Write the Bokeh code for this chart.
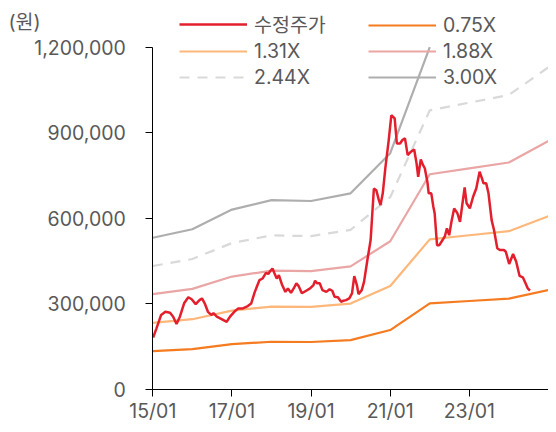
import pandas as pd
from bokeh.plotting import figure
from bokeh.models import (ColumnDataSource, Legend, LegendItem, FixedTicker,
                          NumeralTickFormatter, DatetimeTickFormatter, Label, Range1d)
from bokeh.embed import file_html
from bokeh.resources import INLINE

# ---------------- data ----------------
price_dates = [
    "2015-01-04", "2015-02-04", "2015-03-19", "2015-04-27", "2015-06-09", "2015-07-08",
    "2015-08-08", "2015-09-08", "2015-10-17", "2015-11-25", "2015-12-26", "2016-02-01",
    "2016-03-07", "2016-03-30", "2016-04-24", "2016-05-24", "2016-06-24", "2016-07-14",
    "2016-08-14", "2016-09-14", "2016-10-23", "2016-11-13", "2016-12-14", "2017-01-22",
    "2017-02-28", "2017-04-12", "2017-05-27", "2017-06-27", "2017-07-30", "2017-09-11",
    "2017-10-11", "2017-11-11", "2017-12-02", "2017-12-20", "2018-01-10", "2018-01-26",
    "2018-02-18", "2018-03-10", "2018-04-09", "2018-05-09", "2018-06-01", "2018-06-30",
    "2018-07-25", "2018-08-18", "2018-09-09", "2018-10-08", "2018-11-17", "2018-12-23",
    "2019-01-23", "2019-02-07", "2019-02-27", "2019-03-22", "2019-04-16", "2019-05-22",
    "2019-06-21", "2019-07-16", "2019-08-06", "2019-09-06", "2019-10-06", "2019-10-27",
    "2019-11-20", "2019-12-20", "2020-01-14", "2020-02-04", "2020-02-28", "2020-03-14",
    "2020-04-13", "2020-05-04", "2020-06-04", "2020-07-04", "2020-08-03", "2020-08-25",
    "2020-09-18", "2020-10-03", "2020-10-24", "2020-11-18", "2020-12-18", "2021-01-11",
    "2021-02-11", "2021-03-03", "2021-04-02", "2021-04-23", "2021-05-17", "2021-06-11",
    "2021-07-11", "2021-08-10", "2021-09-01", "2021-09-16", "2021-10-10", "2021-10-31",
    "2021-11-16", "2021-12-10", "2021-12-22", "2022-01-15", "2022-02-03", "2022-02-15",
    "2022-03-09", "2022-03-30", "2022-04-29", "2022-05-21", "2022-06-08", "2022-06-29",
    "2022-07-20", "2022-08-14", "2022-09-13", "2022-10-07", "2022-10-28", "2022-11-19",
    "2022-12-07", "2023-01-06", "2023-02-05", "2023-03-06", "2023-04-06", "2023-04-27",
    "2023-05-12", "2023-06-06", "2023-06-27", "2023-07-26", "2023-08-17", "2023-09-16",
    "2023-10-10", "2023-11-16", "2023-12-04", "2024-01-04", "2024-02-09", "2024-03-09",
    "2024-04-09", "2024-05-09", "2024-06-03", "2024-06-24", "2024-07-14",
]
price_values = [
    181000, 213000, 260000, 271000, 268000, 254000,
    228000, 254000, 301000, 322000, 315000, 298000,
    312000, 318000, 301000, 271000, 260000, 266000,
    254000, 248000, 240000, 236000, 254000, 271000,
    283000, 283000, 291000, 300000, 340000, 382000,
    388000, 408000, 404000, 414000, 423000, 408000,
    388000, 400000, 365000, 341000, 353000, 338000,
    353000, 371000, 361000, 336000, 345000, 353000,
    365000, 380000, 371000, 371000, 347000, 341000,
    350000, 345000, 324000, 322000, 306000, 310000,
    312000, 318000, 336000, 396000, 365000, 333000,
    347000, 376000, 453000, 523000, 704000, 698000,
    663000, 646000, 687000, 780000, 874000, 961000,
    950000, 862000, 862000, 874000, 880000, 821000,
    833000, 841000, 792000, 745000, 806000, 786000,
    775000, 727000, 687000, 687000, 640000, 617000,
    505000, 505000, 523000, 537000, 564000, 540000,
    587000, 634000, 617000, 587000, 646000, 708000,
    652000, 634000, 675000, 704000, 763000, 740000,
    722000, 722000, 687000, 593000, 558000, 494000,
    488000, 488000, 482000, 439000, 474000, 447000,
    397000, 392000, 371000, 353000, 345000,
]

band_dates = ["2015-01-01", "2016-01-01", "2017-01-01", "2018-01-01", "2019-01-01",
              "2020-01-01", "2021-01-01", "2022-01-01", "2023-01-01", "2024-01-01",
              "2025-01-01"]
band_075 = [132800, 140300, 157500, 165800, 165000, 171800, 207000, 300800, 309000, 317300, 347300]
band_131 = [231900, 245000, 275100, 289500, 288200, 300000, 361600, 525300, 539700, 554100, 606500]
band_188 = [332800, 351600, 394800, 415500, 413600, 430500, 518900, 753900, 774600, 795200, 870400]
band_244 = [431900, 456300, 512400, 539200, 536800, 558800, 673400, 978400, 1005300, 1032100, 1129700]
# 3.00X leaves the chart (above 1,200,000) after 22/01: not readable -> NaN
NA = float("nan")
band_300 = [531000, 561000, 630000, 663000, 660000, 687000, 828000, 1200000, NA, NA, NA]

series_names = ["수정주가", "0.75X", "1.31X", "1.88X", "2.44X", "3.00X"]
y_ticks = [0, 300000, 600000, 900000, 1200000]
x_tick_dates = ["2015-01-01", "2017-01-01", "2019-01-01", "2021-01-01", "2023-01-01", "2025-01-01"]
unit_label = "(원)"

# ---------------- layout / styling ----------------
W, H = 548, 424
AX_X_PX = 152.3      # pixel column of the y axis
AX_Y0_PX = 388.5     # pixel row of value 0
AX_YTOP_PX = 46.7    # pixel row of the top of the axis
Y_MAX = 1200000

FONT = "Inter, 'Noto Sans CJK KR', sans-serif"
TXT = "#595959"
FS = "19.5px"

ms = lambda d: pd.Timestamp(d).value // 10**6
t0, t1 = ms(band_dates[0]), ms(band_dates[-1])
px_per_ms = (W - AX_X_PX) / (t1 - t0)
x_start = t0 - AX_X_PX / px_per_ms
val_per_px = Y_MAX / (AX_Y0_PX - AX_YTOP_PX)
y_start = -(H - AX_Y0_PX) * val_per_px
y_end = Y_MAX + AX_YTOP_PX * val_per_px

price_src = ColumnDataSource(dict(x=pd.to_datetime(price_dates), y=price_values))
band_src = ColumnDataSource(dict(x=pd.to_datetime(band_dates), b075=band_075, b131=band_131,
                                 b188=band_188, b244=band_244, b300=band_300))

p = figure(width=W, height=H, output_backend="svg", toolbar_location=None,
           x_axis_type="datetime",
           x_range=Range1d(x_start, t1), y_range=Range1d(y_start, y_end),
           min_border=0, min_border_left=0, min_border_right=0,
           min_border_top=0, min_border_bottom=0)
p.outline_line_color = None
p.xgrid.visible = False
p.ygrid.visible = False
p.background_fill_color = "white"
p.border_fill_color = "white"

r300 = p.line("x", "b300", source=band_src, line_color="#AEAEAE", line_width=2.2)
r244 = p.line("x", "b244", source=band_src, line_color="#D9D9D9", line_width=2.2, line_dash="10 8")
r188 = p.line("x", "b188", source=band_src, line_color="#EAA5A5", line_width=2.2)
r131 = p.line("x", "b131", source=band_src, line_color="#FDB77A", line_width=2.2)
r075 = p.line("x", "b075", source=band_src, line_color="#F47B20", line_width=2.2)
rpx = p.line("x", "y", source=price_src, line_color="#E41F2D", line_width=2.5)

# axes (drawn at fixed data locations inside the frame)
yax = p.yaxis[0]
xax = p.xaxis[0]
yax.fixed_location = t0
yax.bounds = (0, Y_MAX)
xax.fixed_location = 0
xax.bounds = (t0, t1)

yax.ticker = FixedTicker(ticks=y_ticks)
yax.formatter = NumeralTickFormatter(format="0,0")
tick_ms = [ms(d) for d in x_tick_dates]
xax.ticker = FixedTicker(ticks=tick_ms)
fmt = "%y/%m"
xax.formatter = DatetimeTickFormatter(years=fmt, months=fmt, days=fmt, hours=fmt, minutes=fmt,
                                      seconds=fmt, milliseconds=fmt, minsec=fmt, hourmin=fmt)
xax.major_label_overrides = {float(tick_ms[-1]): ""}

for ax in (xax, yax):
    ax.axis_line_color = "#000000"
    ax.axis_line_width = 1
    ax.major_tick_line_color = "#000000"
    ax.minor_tick_line_color = None
    ax.major_tick_in = 0
    ax.major_tick_out = 7
    ax.major_label_text_font = FONT
    ax.major_label_text_font_size = FS
    ax.major_label_text_color = TXT
yax.major_label_standoff = 20
xax.major_label_standoff = 3

# unit label (top-left)
p.add_layout(Label(x=8, y=H - 21, x_units="screen", y_units="screen", text=unit_label,
                   text_font=FONT, text_font_size=FS, text_color=TXT,
                   text_baseline="middle", text_align="left"))

# legends (two columns)
def make_legend(items, x):
    return Legend(items=items, location=(x, 334), orientation="vertical",
                  padding=0, spacing=0, margin=0,
                  glyph_width=68, glyph_height=26, label_height=26, label_standoff=7,
                  border_line_color=None, background_fill_alpha=0,
                  label_text_font=FONT, label_text_font_size=FS, label_text_color=TXT)

leg1 = make_legend([LegendItem(label=series_names[0], renderers=[rpx]),
                    LegendItem(label=series_names[2], renderers=[r131]),
                    LegendItem(label=series_names[4], renderers=[r244])], 179)
leg2 = make_legend([LegendItem(label=series_names[1], renderers=[r075]),
                    LegendItem(label=series_names[3], renderers=[r188]),
                    LegendItem(label=series_names[5], renderers=[r300])], 368)
p.add_layout(leg1, "center")
p.add_layout(leg2, "center")

open("out.html", "w").write(file_html(p, INLINE))
